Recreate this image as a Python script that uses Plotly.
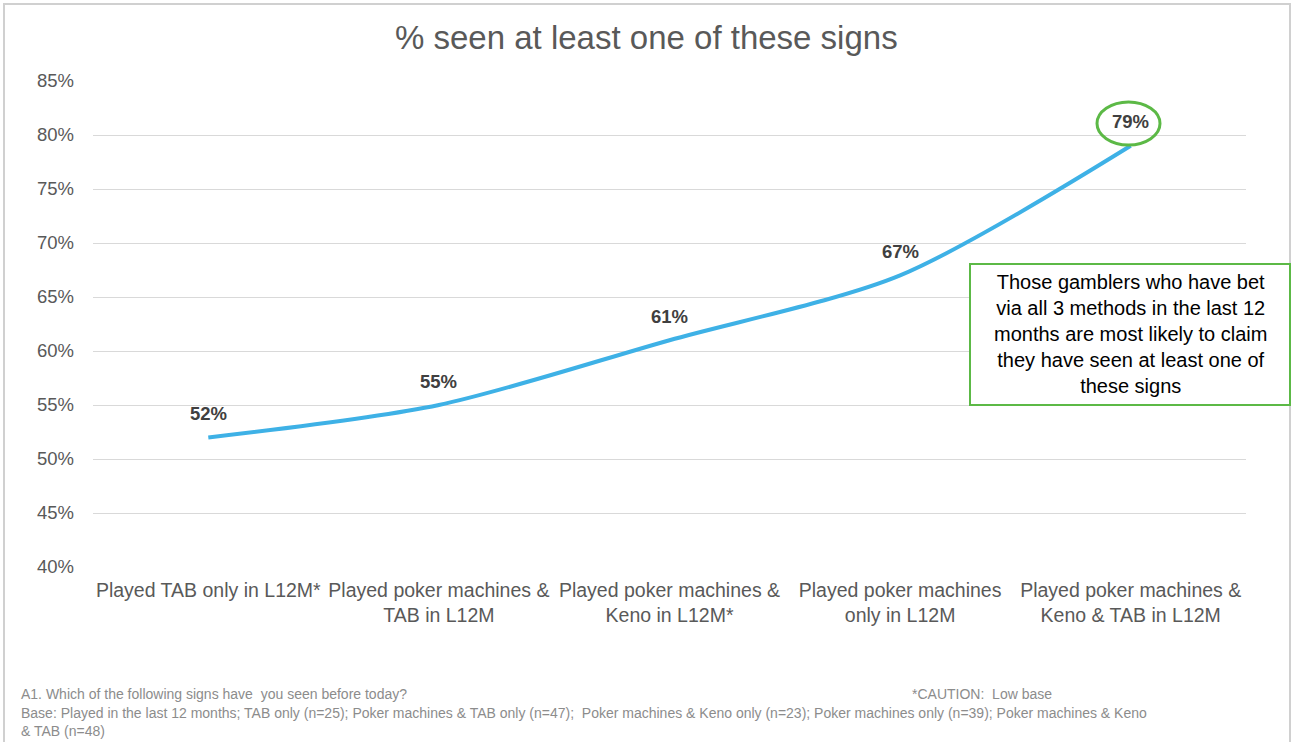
import plotly.graph_objects as go

categories = [
    "Played TAB only in L12M*",
    "Played poker machines &<br>TAB in L12M",
    "Played poker machines &<br>Keno in L12M*",
    "Played poker machines<br>only in L12M",
    "Played poker machines &<br>Keno & TAB in L12M",
]
values = [52, 55, 61, 67, 79]
labels = ["52%", "55%", "61%", "67%", "79%"]
y_ticks = [40, 45, 50, 55, 60, 65, 70, 75, 80, 85]
y_tick_labels = ["40%", "45%", "50%", "55%", "60%", "65%", "70%", "75%", "80%", "85%"]

FONT = "Liberation Sans, Arial, sans-serif"
GREEN = "#5cb946"

# plot area in pixels
L, R, T, B = 93, 1246, 81, 567
W, H = 1292, 742


def px(x):
    return (x - L) / (R - L)


def py(y):
    return (B - y) / (B - T)


xs = list(range(len(categories)))

fig = go.Figure()
fig.add_trace(go.Scatter(
    x=xs, y=values, mode="lines",
    line=dict(color="#3eb1e6", width=4, shape="spline", smoothing=0.8),
    hoverinfo="skip", showlegend=False,
))

annotations = []
for i, (v, t) in enumerate(zip(values, labels)):
    annotations.append(dict(
        x=i, y=v, xref="x", yref="y", text="<b>" + t + "</b>", showarrow=False,
        yshift=24, font=dict(family=FONT, size=18.5, color="#404040"),
    ))

annotations += [
    dict(text="% seen at least one of these signs", x=px(646), y=py(38), xref="paper", yref="paper",
         showarrow=False, font=dict(family=FONT, size=33, color="#595959"), xanchor="center", yanchor="middle"),
    dict(text="Those gamblers who have bet<br>via all 3 methods in the last 12<br>months are most likely to claim<br>they have seen at least one of<br>these signs",
         x=px(1130), y=py(334), xref="paper", yref="paper", showarrow=False, align="center",
         xanchor="center", yanchor="middle", font=dict(family=FONT, size=20, color="#000000")),
    dict(text="A1. Which of the following signs have  you seen before today?", x=px(19), y=py(694),
         xref="paper", yref="paper", showarrow=False, xanchor="left", yanchor="middle",
         font=dict(family=FONT, size=14, color="#8c8c8c")),
    dict(text="*CAUTION:  Low base", x=px(910), y=py(694),
         xref="paper", yref="paper", showarrow=False, xanchor="left", yanchor="middle",
         font=dict(family=FONT, size=14, color="#8c8c8c")),
    dict(text="Base: Played in the last 12 months; TAB only (n=25); Poker machines & TAB only (n=47);  Poker machines & Keno only (n=23); Poker machines only (n=39); Poker machines & Keno<br>& TAB (n=48)",
         x=px(19), y=py(703), xref="paper", yref="paper", showarrow=False, xanchor="left", yanchor="top",
         align="left", font=dict(family=FONT, size=14, color="#8c8c8c")),
]

shapes = [
    # outer border
    dict(type="rect", xref="paper", yref="paper", x0=px(4), x1=px(1290), y0=py(760), y1=py(4),
         line=dict(color="#d0d0d0", width=2), layer="below"),
    # callout box
    dict(type="rect", xref="paper", yref="paper", x0=px(970), x1=px(1290), y0=py(405), y1=py(264),
         line=dict(color=GREEN, width=2), fillcolor="white"),
    # circle around 79%
    dict(type="circle", xref="paper", yref="paper", x0=px(1097), x1=px(1160), y0=py(145), y1=py(102),
         line=dict(color=GREEN, width=3)),
]

fig.update_layout(
    width=W, height=H,
    margin=dict(l=L, r=W - R, t=T, b=H - B),
    paper_bgcolor="white", plot_bgcolor="white",
    showlegend=False,
    annotations=annotations,
    shapes=shapes,
    font=dict(family=FONT),
    xaxis=dict(
        tickmode="array", tickvals=xs, ticktext=categories, range=[-0.5, len(categories) - 0.5],
        showgrid=False, zeroline=False, showline=False, ticks="",
        ticklabelstandoff=9,
        tickfont=dict(family=FONT, size=19.5, color="#595959"), fixedrange=True,
    ),
    yaxis=dict(
        tickmode="array", tickvals=y_ticks, ticktext=y_tick_labels, range=[40, 85],
        showgrid=True, gridcolor="#d9d9d9", gridwidth=1, zeroline=False, showline=False, ticks="",
        ticklabelstandoff=18,
        tickfont=dict(family=FONT, size=18.5, color="#595959"), fixedrange=True,
    ),
)

fig.write_html("out.html")
